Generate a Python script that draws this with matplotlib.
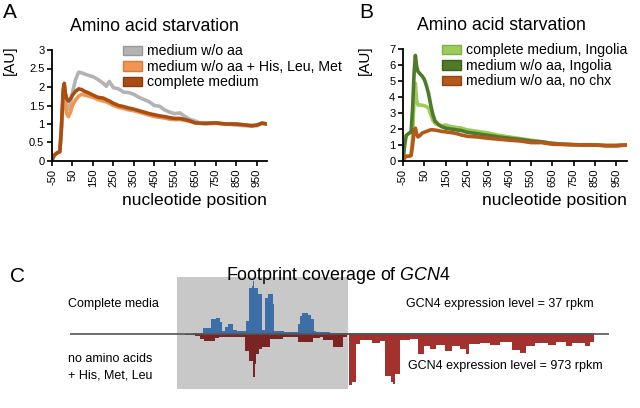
import numpy as np
import matplotlib
matplotlib.use('Agg')
import matplotlib.pyplot as plt
from matplotlib.patches import Patch, Rectangle

plt.rcParams['font.family'] = ['Liberation Sans', 'DejaVu Sans']
plt.rcParams['mathtext.fontset'] = 'custom'
plt.rcParams['mathtext.rm'] = 'Liberation Sans'
plt.rcParams['mathtext.it'] = 'Liberation Sans:italic'

# ---- panel A: metagene profiles, amino acid starvation
nt_a = [-50, -40, -25, -12, -5, 5, 10, 15, 22, 30, 40, 50, 65, 80, 95, 110, 125, 150, 175, 200,
        215, 230, 250, 275, 300, 325, 350, 375, 400, 425, 450, 475, 500, 525, 550, 575, 600,
        625, 650, 675, 700, 750, 800, 850, 900, 925, 950, 975, 1000]
a_no_aa = [0.02, 0.15, 0.22, 0.25, 0.8, 1.9, 2.05, 1.75, 1.5, 1.4, 1.55, 1.85, 2.2, 2.4, 2.38, 2.35,
           2.32, 2.28, 2.2, 2.1, 2.02, 2.15, 1.98, 1.95, 1.86, 1.85, 1.8, 1.72, 1.66, 1.6, 1.5,
           1.48, 1.38, 1.32, 1.28, 1.3, 1.2, 1.12, 1.08, 1.02, 1.0, 1.02, 1.0, 0.97, 0.95, 0.97,
           0.95, 1.03, 1.0]
a_no_aa_his = [0.02, 0.15, 0.22, 0.25, 0.75, 1.85, 2.0, 1.55, 1.28, 1.2, 1.32, 1.5, 1.65, 1.75, 1.8,
               1.78, 1.76, 1.72, 1.66, 1.62, 1.6, 1.56, 1.5, 1.45, 1.42, 1.38, 1.36, 1.32, 1.28,
               1.24, 1.2, 1.18, 1.16, 1.13, 1.12, 1.12, 1.1, 1.07, 1.03, 1.02, 1.02, 1.02, 1.0,
               0.99, 0.97, 0.95, 0.97, 1.02, 1.0]
a_complete = [0.02, 0.15, 0.22, 0.25, 0.8, 1.95, 2.1, 1.85, 1.68, 1.62, 1.68, 1.78, 1.88, 1.95, 1.93,
              1.88, 1.85, 1.78, 1.72, 1.7, 1.66, 1.62, 1.56, 1.5, 1.47, 1.43, 1.4, 1.36, 1.32,
              1.28, 1.25, 1.22, 1.2, 1.17, 1.15, 1.15, 1.12, 1.08, 1.03, 1.02, 1.02, 1.03, 1.0,
              1.0, 0.97, 0.95, 0.97, 1.02, 1.0]

# ---- panel B: comparison with Ingolia data
nt_b = [-50, -42, -35, -20, -12, -5, 2, 8, 14, 20, 30, 40, 50, 60, 70, 80, 90, 100, 115, 130, 150,
        175, 200, 225, 250, 300, 350, 400, 450, 500, 550, 600, 650, 700, 750, 800, 850, 900,
        950, 1000]
b_complete_ing = [0.05, 0.2, 0.3, 0.3, 0.35, 1.5, 4.0, 4.85, 3.8, 3.5, 3.5, 3.48, 3.45, 3.4, 3.3,
                  2.9, 2.55, 2.35, 2.25, 2.2, 2.25, 2.15, 2.1, 2.05, 1.95, 1.85, 1.75, 1.6, 1.5,
                  1.4, 1.3, 1.2, 1.1, 1.05, 1.02, 1.0, 1.0, 0.97, 0.97, 1.0]
b_no_aa_ing = [0.05, 1.0, 1.6, 1.75, 1.8, 3.3, 5.5, 6.6, 5.9, 5.6, 5.45, 5.3, 5.1, 4.7, 4.2, 3.5,
               2.9, 2.5, 2.3, 2.15, 2.05, 2.0, 1.95, 1.9, 1.8, 1.7, 1.6, 1.5, 1.42, 1.35, 1.25,
               1.2, 1.1, 1.05, 1.02, 1.0, 1.0, 0.97, 0.97, 1.0]
b_no_aa_nochx = [0.05, 0.2, 0.3, 0.3, 0.35, 1.0, 1.8, 2.05, 1.7, 1.5, 1.6, 1.75, 1.8, 1.85, 1.9,
                 1.95, 1.95, 1.93, 1.9, 1.85, 1.82, 1.78, 1.72, 1.62, 1.55, 1.5, 1.42, 1.36, 1.3,
                 1.25, 1.15, 1.15, 1.05, 1.03, 1.02, 1.0, 1.0, 0.95, 0.95, 1.0]

# ---- panel C: GCN4 footprint coverage (step profiles, track position / height)
uorf_region = (107, 278)
blue_pos = [120, 123, 133, 141, 146, 150, 152, 155, 158, 163, 167, 176, 179, 182, 183, 184, 188,
            192, 195, 198, 203, 204, 214, 228, 230, 232, 238, 241, 244, 246, 260, 280, 288, 300,
            310, 325, 340, 355, 370, 385, 400, 415, 430, 445, 460, 475, 490, 505, 515, 524]
blue_cov = [0.5, 1.5, 6, 15, 16, 12, 3, 7, 10, 4, 3, 13, 46, 48, 53, 46, 40, 4, 36, 40, 30, 3, 2,
            10, 18, 21, 19, 15, 3, 2, 1, 1.5, 1, 1.5, 0.8, 1.2, 1, 1.5, 1, 1.2, 1.5, 1, 1.2, 1.5,
            1, 1.2, 1.5, 1, 1.2, 0]
red_pos = [115, 125, 130, 134, 145, 149, 175, 179, 183, 184.5, 186, 189, 192, 200, 213, 228, 243,
           250, 253, 263, 273, 277, 279, 282, 286, 290, 302, 310, 315, 321, 323, 325, 330, 340,
           348, 354, 360, 366, 375, 382, 390, 396, 399, 410, 420, 430, 442, 450, 456, 465, 478,
           486, 496, 502, 515, 520, 524]
red_cov = [0.5, 1.5, 5, 7, 4, 3, 17, 27, 43, 30, 20, 15, 13, 5, 3, 8, 4, 3, 6, 13, 3, 1, 51, 48,
           10, 6, 9, 7, 42, 48, 50, 40, 6, 5, 20, 12, 15, 11, 17, 12, 15, 20, 10, 9, 11, 8, 16,
           19, 12, 9, 11, 8, 12, 9, 12, 8, 0]

W, H = 640, 408
fig = plt.figure(figsize=(6.4, 4.08), dpi=100)


def px_rect(x0, y0, x1, y1):
    return [x0 / W, 1 - y1 / H, (x1 - x0) / W, (y1 - y0) / H]


def style_profile(ax, ymax, ystep):
    for s in ['top', 'right']:
        ax.spines[s].set_visible(False)
    for s in ['left', 'bottom']:
        ax.spines[s].set_linewidth(1.3)
    ax.set_xlim(-50, 1000)
    ax.set_ylim(0, ymax)
    ax.set_xticks(np.arange(-50, 1000, 100))
    ax.set_xticklabels([str(v) for v in range(-50, 1000, 100)], rotation=90)
    ax.set_yticks(np.arange(0, ymax + 0.01, ystep))
    ax.set_yticklabels(['%g' % v for v in np.arange(0, ymax + 0.01, ystep)])
    ax.tick_params(labelsize=8, length=3.5, width=1.2, pad=2)
    ax.set_xlabel('nucleotide position', fontsize=12.6, loc='right', labelpad=4)


# panel A
ax1 = fig.add_axes(px_rect(52, 50, 267, 161))
ax1.plot(nt_a, a_no_aa, color='#b3b3b3', lw=2.6)
ax1.plot(nt_a, a_no_aa_his, color='#f09650', lw=2.6)
ax1.plot(nt_a, a_complete, color='#a84e12', lw=2.6)
style_profile(ax1, 3, 0.5)
ax1.set_title('Amino acid starvation', fontsize=12.7, x=0.475, pad=14)
leg_a = [Patch(facecolor='#b3b3b3', edgecolor='#999999', label='medium w/o aa'),
         Patch(facecolor='#f09650', edgecolor='#d87a38', label='medium w/o aa + His, Leu, Met'),
         Patch(facecolor='#a84e12', edgecolor='#8a3c0a', label='complete medium')]
ax1.legend(handles=leg_a, loc='upper left', bbox_to_anchor=(0.33, 1.05), frameon=False,
           fontsize=10.2, handlelength=1.35, handleheight=0.65, handletextpad=0.35,
           labelspacing=0.1, borderpad=0, borderaxespad=0)

# panel B
ax2 = fig.add_axes(px_rect(403, 49, 627, 161))
ax2.plot(nt_b, b_complete_ing, color='#9ccc5c', lw=2.6)
ax2.plot(nt_b, b_no_aa_ing, color='#4e7a2a', lw=2.6)
ax2.plot(nt_b, b_no_aa_nochx, color='#b5581a', lw=2.6)
style_profile(ax2, 7, 1)
ax2.set_title('Amino acid starvation', fontsize=12.7, x=0.44, pad=14)
leg_b = [Patch(facecolor='#9ccc5c', edgecolor='#7fb048', label='complete medium, Ingolia'),
         Patch(facecolor='#4e7a2a', edgecolor='#3c6020', label='medium w/o aa, Ingolia'),
         Patch(facecolor='#b5581a', edgecolor='#944412', label='medium w/o aa, no chx')]
ax2.legend(handles=leg_b, loc='upper left', bbox_to_anchor=(0.174, 1.05), frameon=False,
           fontsize=10.2, handlelength=1.35, handleheight=0.65, handletextpad=0.35,
           labelspacing=0.1, borderpad=0, borderaxespad=0)

fig.text(3 / W, 1 - 13 / H, 'A', fontsize=15, va='center', ha='left')
fig.text(359 / W, 1 - 13 / H, 'B', fontsize=15, va='center', ha='left')
fig.text(10 / W, 1 - 60 / H, '[AU]', fontsize=11, rotation=90, va='center', ha='center')
fig.text(365 / W, 1 - 60 / H, '[AU]', fontsize=11, rotation=90, va='center', ha='center')

# panel C
ax3 = fig.add_axes(px_rect(70, 277, 609, 389))
ax3.set_xlim(0, 539)
ax3.set_ylim(-55, 57)
ax3.axis('off')
box = Rectangle((uorf_region[0], -55), uorf_region[1] - uorf_region[0], 112,
                facecolor='#c8c8c8', edgecolor='none', zorder=0)
ax3.add_patch(box)
ax3.fill_between(blue_pos, 0, blue_cov, step='post', color='#3e6ea8', lw=0, zorder=2)
ax3.fill_between(red_pos, 0, -np.array(red_cov), step='post', color='#a3312e', lw=0, zorder=2)
dark = ax3.fill_between(red_pos, 0, -np.array(red_cov), step='post', color='#7a2523', lw=0,
                        zorder=3)
dark.set_clip_path(Rectangle((uorf_region[0], -55), uorf_region[1] - uorf_region[0], 112,
                             transform=ax3.transData))
ax3.axhline(0, color='#555555', lw=1.2, zorder=4)

fig.text(10 / W, 1 - 276 / H, 'C', fontsize=15, va='center', ha='left')
fig.text(338 / W, 1 - 276 / H, 'Footprint coverage of $\\mathit{GCN4}$', fontsize=12.9,
         va='center', ha='center')
fig.text(68 / W, 1 - 304 / H, 'Complete media', fontsize=9, va='center', ha='left')
fig.text(68 / W, 1 - 367 / H, 'no amino acids\n+ His, Met, Leu', fontsize=9, va='center',
         ha='left', linespacing=1.5)
fig.text(406 / W, 1 - 304 / H, 'GCN4 expression level = 37 rpkm', fontsize=9, va='center',
         ha='left')
fig.text(408 / W, 1 - 366 / H, 'GCN4 expression level = 973 rpkm', fontsize=9, va='center',
         ha='left')

fig.savefig('out.png', dpi=100)
